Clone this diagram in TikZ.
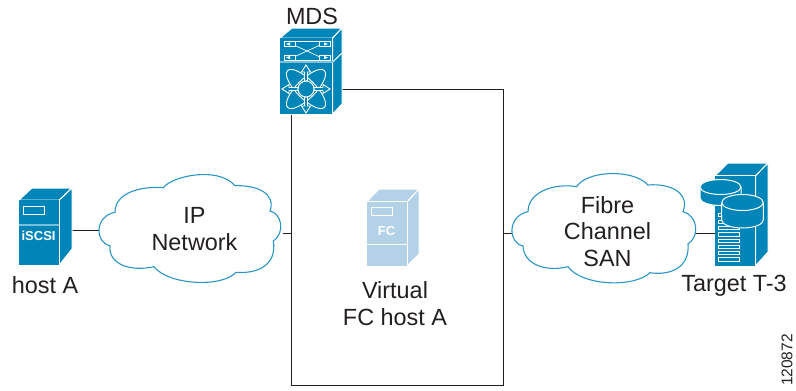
\documentclass[tikz,border=0pt]{standalone}
\usepackage{fontspec}
\setmainfont{Liberation Sans}
\definecolor{ciscoblue}{HTML}{0085B9}
\definecolor{paleblue}{HTML}{B3D2E8}
\definecolor{bandblue}{HTML}{7CBFDB}
\definecolor{cloudline}{HTML}{2A96C6}
\definecolor{ink}{HTML}{231F20}
\tikzset{
  label/.style={font=\fontsize{23.4}{27}\selectfont,text=ink,align=center,inner sep=0pt},
  cloudshape/.style={draw=cloudline,line width=1.1pt,fill=white},
  link/.style={draw=ink,line width=1pt},
  devface/.style={fill=ciscoblue,draw=white,line width=1pt,line join=round},
  paleface/.style={fill=paleblue,draw=white,line width=1pt,line join=round},
  wline/.style={draw=white,line width=1pt},
  anchorbox/.style={inner sep=0pt,minimum width=#1}
}
\begin{document}
\begin{tikzpicture}[x=1pt,y=-1pt]
\useasboundingbox (0,0) rectangle (796,391);
% named ports
\coordinate (hostPort) at (59.5,230);
\coordinate (ipW) at (100,230);
\coordinate (ipE) at (282.7,233);
\coordinate (boxW) at (291,233);
\coordinate (mdsS) at (291,114);
\coordinate (boxBL) at (291,385);
\coordinate (boxBR) at (503,385);
\coordinate (boxTR) at (503,89);
\coordinate (mdsE) at (342,89);
\coordinate (boxE) at (503,233);
\coordinate (fcW) at (512,233);
\coordinate (fcE) at (695,233);
\coordinate (targetW) at (715,233);
% connectors
\draw[link] (mdsS) -- (boxBL) -- (boxBR) -- (boxTR) -- (mdsE);
\draw[link] (hostPort) -- (ipW);
\draw[link] (ipE) -- (boxW);
\draw[link] (boxE) -- (fcW);
\draw[link] (fcE) -- (targetW);
% IP cloud
\draw[cloudshape] (163.3,187.7)
  .. controls (172,176) and (218,166) .. (235,185.7)
  .. controls (258,185) and (276,194) .. (270,211)
  .. controls (281,213) and (286,232) .. (273.3,241)
  .. controls (277,265) and (258,274) .. (236,272.3)
  .. controls (222,288) and (168,285) .. (154,266.7)
  .. controls (130,272) and (108,264) .. (110,245.7)
  .. controls (94,242) and (95,216) .. (115,212.3)
  .. controls (115,192) and (142,186) .. (163.3,187.7) -- cycle;
\node[label] (ipLabel) at (194.5,229.5) {IP\\Network};
% Fibre cloud
\draw[cloudshape] (576.7,186.7)
  .. controls (586,171) and (632,168) .. (648,185)
  .. controls (672,183) and (690,194) .. (683,211.7)
  .. controls (698,216) and (700,236) .. (688,244)
  .. controls (690,266) and (672,276) .. (650,272.7)
  .. controls (634,288) and (582,286) .. (568,266.7)
  .. controls (546,272) and (524,265) .. (523,246)
  .. controls (508,243) and (507,216) .. (528,211.7)
  .. controls (528,191) and (556,183) .. (576.7,186.7) -- cycle;
\node[label] (fcLabel) at (607.5,231.5) {Fibre\\[-0.5pt]Channel\\[-0.5pt]SAN};
% host A
\node[anchorbox=40pt,minimum height=65pt] (hostA) at (39.2,232.5) {};
\draw[devface] (19,200) -- (32,188) -- (72,188) -- (59.3,200) -- cycle;
\draw[devface] (59.3,200) -- (72,188) -- (72,249) -- (59.3,265) -- cycle;
\fill[ciscoblue] (19,200) rectangle (59.3,265);
\draw[white,line width=1pt] (59.3,200) -- (59.3,265);
\draw[white,line width=.8pt] (19,265) -- (59.3,265);
\draw[bandblue,line width=1.6pt] (19,225) -- (59.3,225);
\draw[white,line width=.9pt] (23.3,206.3) rectangle (44.5,214.3);
\node[font=\fontsize{13}{13}\selectfont\bfseries,text=white,inner sep=0pt] (hostIcon) at (38.6,236) {iSCSI};
\node[label] (hostLabel) at (45,285.5) {host A};
% MDS
\node[label] (mdsLabel) at (312,16) {MDS};
\node[anchorbox=53pt,minimum height=76pt] (mds) at (306,76) {};
\draw[devface] (280,38) -- (292,28) -- (342,28) -- (332.7,38) -- cycle;
\draw[devface] (332.7,38) -- (342,28) -- (342,104) -- (332.7,114) -- cycle;
\draw[wline] (332.7,62) -- (342,53);
\fill[ciscoblue] (280,38) rectangle (332.7,114);
\draw[white,line width=.8pt] (332.7,38) -- (332.7,114);
\draw[bandblue,line width=1.5pt] (280,62) -- (332.7,62);
\draw[white,line width=.8pt] (280,114.3) -- (332.7,114.3);
% MDS top panel
\begin{scope}[white,line width=.7pt,line join=round]
  \draw (284.3,41.5) rectangle (295,46.5);
  \draw (319,41.5) rectangle (330,46.5);
  \draw (284.3,55) rectangle (295,60);
  \draw (319,55) rectangle (330,60);
  \draw (295,41.5) -- (319,41.5);
  \draw (295,60) -- (319,60);
  \draw (295,45.5) -- (319,56.5);
  \draw (295,56.5) -- (319,45.5);
  \fill (286,44) -- (290,42.3) -- (290,45.7) -- cycle;
  \fill (328,44) -- (324,42.3) -- (324,45.7) -- cycle;
  \fill (286,57.5) -- (290,55.8) -- (290,59.2) -- cycle;
  \fill (328,57.5) -- (324,55.8) -- (324,59.2) -- cycle;
\end{scope}
% MDS atom
\draw[white,line width=.9pt,rotate around={45:(306,89)}] (306,89) ellipse (26 and 9.5);
\draw[white,line width=.9pt,rotate around={-45:(306,89)}] (306,89) ellipse (26 and 9.5);
\foreach \ang in {0,90,180,270}{
  \draw[fill=ciscoblue,draw=white,line width=.9pt,line join=miter,shift={(306,89)},rotate=\ang]
    (8,-1.5) -- (17,-1.5) -- (17,-4.5) -- (24,0) -- (17,4.5) -- (17,1.5) -- (8,1.5) -- cycle;
}
\draw[fill=ciscoblue,draw=white,line width=1pt] (306,89) circle (8);
% Virtual FC host
\node[anchorbox=40pt,minimum height=64pt] (fcHost) at (387,233.7) {};
\draw[paleface] (366.7,201.7) -- (379,189) -- (419,189) -- (407.3,201.7) -- cycle;
\draw[paleface] (407.3,201.7) -- (419,189) -- (419,254) -- (407.3,265.7) -- cycle;
\fill[paleblue] (366.7,201.7) rectangle (407.3,265.7);
\draw[white,line width=.8pt] (407.3,201.7) -- (407.3,265.7);
\draw[white,line width=.8pt] (366.7,244.3) -- (407.3,244.3);
\draw[white,line width=.9pt] (371,207.3) rectangle (392,215.7);
\node[font=\fontsize{13}{13}\selectfont\bfseries,text=white,inner sep=0pt] (fcIcon) at (386.5,231) {FC};
\node[label] (virtualLabel) at (395,303.5) {Virtual\\FC host A};
% Target T-3
\node[anchorbox=41pt,minimum height=90pt] (target) at (735.5,220.7) {};
\draw[devface] (715,175.7) -- (728,163) -- (768,163) -- (755.7,175.7) -- cycle;
\draw[devface] (755.7,175.7) -- (768,163) -- (768,252) -- (755.7,265.7) -- cycle;
\fill[ciscoblue] (715,175.7) rectangle (755.7,265.7);
\draw[white,line width=.8pt] (755.7,175.7) -- (755.7,265.7);
\draw[white,line width=.8pt] (715,175.7) -- (755.7,175.7);
\foreach \sy in {215,221.7,228.3,234.5,240.8,247,253.3,259.4}{
  \draw[white,line width=.9pt] (718.5,\sy-1.6) rectangle (739,\sy+1.6);
}
\draw[devface] (700,187) -- (700,198) arc[start angle=180,end angle=0,x radius=20.5,y radius=7.5] -- (741,187);
\draw[devface] (720.5,187) ellipse (20.5 and 7.5);
\draw[devface] (721.7,202.5) -- (721.7,220) arc[start angle=180,end angle=0,x radius=20.8,y radius=8] -- (763.3,202.5);
\draw[devface] (742.5,202.5) ellipse (20.8 and 8);
\node[label] (targetLabel) at (734,285.5) {Target T-3};
% figure number
\node[font=\fontsize{15.5}{16}\selectfont,text=ink,rotate=90,inner sep=0pt] (figNo) at (787,360) {120872};
\end{tikzpicture}
\end{document}
